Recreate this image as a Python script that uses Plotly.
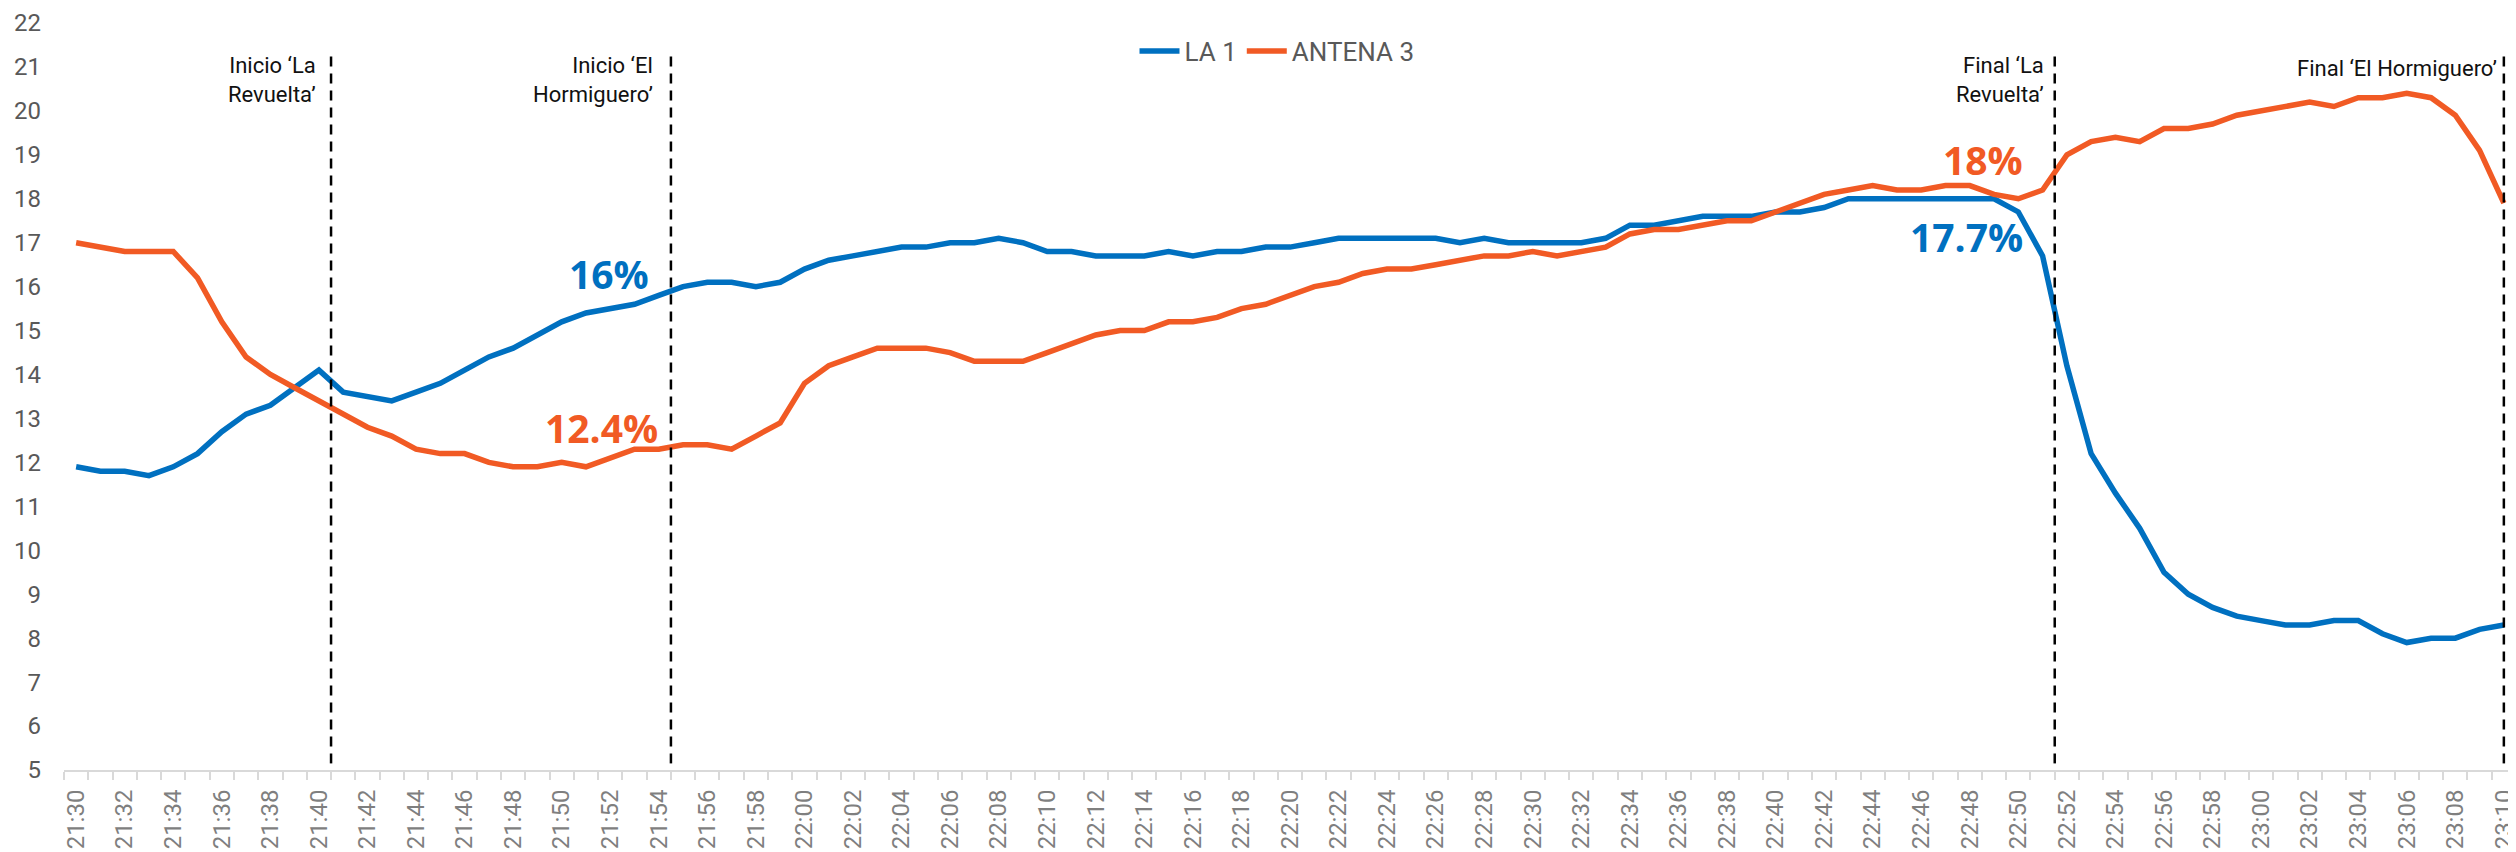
import plotly.graph_objects as go

times = [
    "21:30", "21:31", "21:32", "21:33", "21:34", "21:35", "21:36", "21:37", "21:38", "21:39",
    "21:40", "21:41", "21:42", "21:43", "21:44", "21:45", "21:46", "21:47", "21:48", "21:49",
    "21:50", "21:51", "21:52", "21:53", "21:54", "21:55", "21:56", "21:57", "21:58", "21:59",
    "22:00", "22:01", "22:02", "22:03", "22:04", "22:05", "22:06", "22:07", "22:08", "22:09",
    "22:10", "22:11", "22:12", "22:13", "22:14", "22:15", "22:16", "22:17", "22:18", "22:19",
    "22:20", "22:21", "22:22", "22:23", "22:24", "22:25", "22:26", "22:27", "22:28", "22:29",
    "22:30", "22:31", "22:32", "22:33", "22:34", "22:35", "22:36", "22:37", "22:38", "22:39",
    "22:40", "22:41", "22:42", "22:43", "22:44", "22:45", "22:46", "22:47", "22:48", "22:49",
    "22:50", "22:51", "22:52", "22:53", "22:54", "22:55", "22:56", "22:57", "22:58", "22:59",
    "23:00", "23:01", "23:02", "23:03", "23:04", "23:05", "23:06", "23:07", "23:08", "23:09",
    "23:10",
]

la1 = [
    11.9, 11.8, 11.8, 11.7, 11.9, 12.2, 12.7, 13.1, 13.3, 13.7,
    14.1, 13.6, 13.5, 13.4, 13.6, 13.8, 14.1, 14.4, 14.6, 14.9,
    15.2, 15.4, 15.5, 15.6, 15.8, 16.0, 16.1, 16.1, 16.0, 16.1,
    16.4, 16.6, 16.7, 16.8, 16.9, 16.9, 17.0, 17.0, 17.1, 17.0,
    16.8, 16.8, 16.7, 16.7, 16.7, 16.8, 16.7, 16.8, 16.8, 16.9,
    16.9, 17.0, 17.1, 17.1, 17.1, 17.1, 17.1, 17.0, 17.1, 17.0,
    17.0, 17.0, 17.0, 17.1, 17.4, 17.4, 17.5, 17.6, 17.6, 17.6,
    17.7, 17.7, 17.8, 18.0, 18.0, 18.0, 18.0, 18.0, 18.0, 18.0,
    17.7, 16.7, 14.2, 12.2, 11.3, 10.5, 9.5, 9.0, 8.7, 8.5,
    8.4, 8.3, 8.3, 8.4, 8.4, 8.1, 7.9, 8.0, 8.0, 8.2,
    8.3,
]

antena3 = [
    17.0, 16.9, 16.8, 16.8, 16.8, 16.2, 15.2, 14.4, 14.0, 13.7,
    13.4, 13.1, 12.8, 12.6, 12.3, 12.2, 12.2, 12.0, 11.9, 11.9,
    12.0, 11.9, 12.1, 12.3, 12.3, 12.4, 12.4, 12.3, 12.6, 12.9,
    13.8, 14.2, 14.4, 14.6, 14.6, 14.6, 14.5, 14.3, 14.3, 14.3,
    14.5, 14.7, 14.9, 15.0, 15.0, 15.2, 15.2, 15.3, 15.5, 15.6,
    15.8, 16.0, 16.1, 16.3, 16.4, 16.4, 16.5, 16.6, 16.7, 16.7,
    16.8, 16.7, 16.8, 16.9, 17.2, 17.3, 17.3, 17.4, 17.5, 17.5,
    17.7, 17.9, 18.1, 18.2, 18.3, 18.2, 18.2, 18.3, 18.3, 18.1,
    18.0, 18.2, 19.0, 19.3, 19.4, 19.3, 19.6, 19.6, 19.7, 19.9,
    20.0, 20.1, 20.2, 20.1, 20.3, 20.3, 20.4, 20.3, 19.9, 19.1,
    17.9,
]

series_names = ["LA 1", "ANTENA 3"]
series_colors = ["#0070C0", "#F15A24"]

# program events: category position of the dashed line, label text
event_positions = [10.5, 24.5, 81.5, 100]
event_labels = [
    "Inicio ‘La<br>Revuelta’",
    "Inicio ‘El<br>Hormiguero’",
    "Final ‘La<br>Revuelta’",
    "Final ‘El Hormiguero’",
]
event_label_y = [20.70, 20.70, 20.70, 20.97]
event_gap = [-13, -16, -9, -5]

# highlighted values
callout_texts = ["16%", "12.4%", "18%", "17.7%"]
callout_x = [23.66, 24.07, 80.29, 80.29]
callout_y = [16.30, 12.80, 18.90, 17.15]
callout_colors = ["#0070C0", "#F15A24", "#F15A24", "#0070C0"]

fig = go.Figure()
for name, vals, col in zip(series_names, [la1, antena3], series_colors):
    fig.add_trace(go.Scatter(
        x=times, y=vals, name=name, mode="lines",
        line=dict(color=col, width=5.5),
    ))

shapes = []
for xp in event_positions:
    shapes.append(dict(
        type="line", xref="x", yref="y", x0=xp, x1=xp, y0=5.15, y1=21.3,
        line=dict(color="#000000", width=2.5, dash="10px,7px"),
    ))

annotations = []
for xp, txt, yv, gap in zip(event_positions, event_labels, event_label_y, event_gap):
    annotations.append(dict(
        x=xp, y=yv, xref="x", yref="y", text=txt, showarrow=False,
        xanchor="right", yanchor="middle", align="right", xshift=gap,
        font=dict(family="Roboto, sans-serif", size=22, color="#111111"),
    ))
for txt, xv, yv, col in zip(callout_texts, callout_x, callout_y, callout_colors):
    annotations.append(dict(
        x=xv, y=yv, xref="x", yref="y", text="<b>" + txt + "</b>", showarrow=False,
        xanchor="right", yanchor="middle",
        font=dict(family="Open Sans, sans-serif", size=39, color=col),
    ))

tick_text = [t if i % 2 == 0 else "" for i, t in enumerate(times)]

fig.update_layout(
    width=2508, height=844,
    margin=dict(l=56, r=0, t=15, b=82, autoexpand=False),
    paper_bgcolor="white", plot_bgcolor="white",
    showlegend=True,
    legend=dict(
        orientation="h", x=0.4947, xanchor="center", y=0.9625, yanchor="middle",
        font=dict(family="Roboto, sans-serif", size=26, color="#595959"),
        bgcolor="rgba(0,0,0,0)", itemwidth=40,
    ),
    shapes=shapes,
    annotations=annotations,
    xaxis=dict(
        type="category", range=[-0.5, 100.5], automargin=False,
        tickmode="array", tickvals=times, ticktext=tick_text,
        tickson="boundaries", ticks="outside", ticklen=8, tickwidth=1.5, tickcolor="#d9d9d9",
        tickangle=-90, ticklabelstandoff=8,
        tickfont=dict(family="Roboto, sans-serif", size=24, color="#7f7f7f"),
        showline=True, linecolor="#d9d9d9", linewidth=2,
        showgrid=False, zeroline=False,
    ),
    yaxis=dict(
        range=[5, 22], tickmode="linear", tick0=5, dtick=1, automargin=False,
        ticks="", ticklabelstandoff=22,
        tickfont=dict(family="Roboto, sans-serif", size=24, color="#595959"),
        showline=False, showgrid=False, zeroline=False,
    ),
)

fig.write_html("out.html")
